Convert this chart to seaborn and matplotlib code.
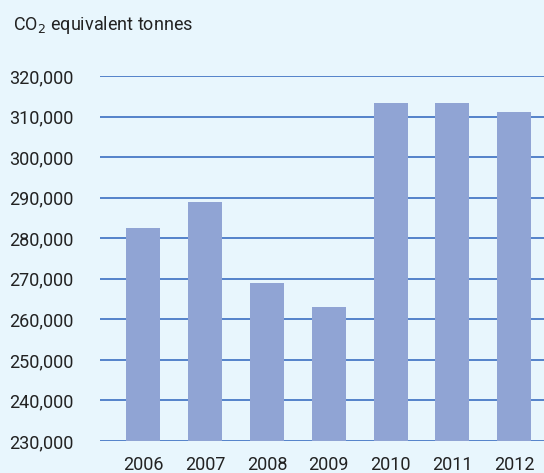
import matplotlib
matplotlib.use("Agg")
import matplotlib.pyplot as plt
import seaborn as sns
import pandas as pd

years = ["2006", "2007", "2008", "2009", "2010", "2011", "2012"]
values = [282500, 288900, 269000, 263000, 313300, 313300, 311100]
yticks = [230000, 240000, 250000, 260000, 270000, 280000, 290000, 300000, 310000, 320000]

sns.set_theme(style="white")
plt.rcParams['font.family'] = ['Roboto', 'DejaVu Sans']

bg = "#E8F6FD"
fig = plt.figure(figsize=(5.44, 4.73), dpi=100, facecolor=bg)
ax = fig.add_axes([100/544, 1-441/473, 1-100/544, (441-76)/473])
ax.set_facecolor(bg)

df = pd.DataFrame({"year": years, "value": values})
sns.barplot(data=df, x="year", y="value", color="#90A4D4", saturation=1, width=0.55,
            linewidth=0, edgecolor="none", ax=ax, zorder=3)

ax.set_ylim(230000, 320000)
ax.set_xlim(-0.7, 6.48)
ax.set_yticks(yticks)
ax.set_yticklabels([f"{v:,}" for v in yticks])
for v in yticks:
    ax.axhline(v, color="#3B6FC2", lw=1.2, zorder=1)
for s in ax.spines.values():
    s.set_visible(False)
ax.tick_params(axis="y", length=0, pad=19, labelsize=13, labelcolor="#222222")
ax.tick_params(axis="x", length=0, pad=11, labelsize=13, labelcolor="#222222")
ax.set_xlabel("")
ax.set_ylabel("")
fig.text(13/544, 1-25/473, "CO$_2$ equivalent tonnes", fontsize=13, color="#222222", va="center", ha="left")

fig.savefig("out.png", dpi=100, facecolor=bg)
